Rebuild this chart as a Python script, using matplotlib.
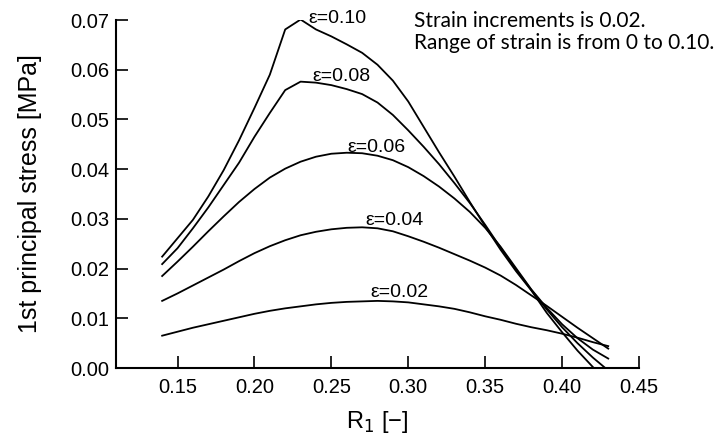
import matplotlib
matplotlib.use("Agg")
import matplotlib.pyplot as plt

r1 = [0.14, 0.15, 0.16, 0.17, 0.18, 0.19, 0.20, 0.21, 0.22, 0.23,
      0.24, 0.25, 0.26, 0.27, 0.28, 0.29, 0.30, 0.31, 0.32, 0.33,
      0.34, 0.35, 0.36, 0.37, 0.38, 0.39, 0.40, 0.41, 0.42, 0.43]

s002 = [0.0065, 0.0073, 0.0081, 0.0088, 0.0095, 0.0102, 0.0109, 0.0115, 0.0120, 0.0124,
        0.0128, 0.0131, 0.0133, 0.0134, 0.0135, 0.0134, 0.0132, 0.0128, 0.0124, 0.0119,
        0.0112, 0.0104, 0.0097, 0.0089, 0.0082, 0.0076, 0.0069, 0.0061, 0.0052, 0.0044]
s004 = [0.0135, 0.0150, 0.0166, 0.0182, 0.0198, 0.0215, 0.0231, 0.0245, 0.0257, 0.0267,
        0.0274, 0.0279, 0.0282, 0.0283, 0.0281, 0.0275, 0.0265, 0.0254, 0.0242, 0.0229,
        0.0216, 0.0202, 0.0186, 0.0167, 0.0146, 0.0125, 0.0103, 0.0081, 0.0060, 0.0039]
s006 = [0.0185, 0.0214, 0.0244, 0.0275, 0.0305, 0.0334, 0.0360, 0.0383, 0.0401, 0.0415,
        0.0425, 0.0431, 0.0433, 0.0432, 0.0427, 0.0418, 0.0404, 0.0386, 0.0365, 0.0341,
        0.0314, 0.0282, 0.0244, 0.0201, 0.0158, 0.0121, 0.0088, 0.0060, 0.0037, 0.0019]
s008 = [0.0209, 0.0241, 0.0281, 0.0323, 0.0368, 0.0413, 0.0465, 0.0513, 0.0559, 0.0576,
        0.0574, 0.0569, 0.0561, 0.0551, 0.0534, 0.0509, 0.0478, 0.0445, 0.0410, 0.0372,
        0.0332, 0.0288, 0.0242, 0.0198, 0.0157, 0.0118, 0.0082, 0.0050, 0.0021, -0.0005]
s010 = [0.0224, 0.0261, 0.0298, 0.0345, 0.0398, 0.0458, 0.0523, 0.0590, 0.0681, 0.0701,
        0.0681, 0.0667, 0.0651, 0.0634, 0.0610, 0.0578, 0.0536, 0.0485, 0.0434, 0.0385,
        0.0334, 0.0285, 0.0238, 0.0195, 0.0156, 0.0111, 0.0072, 0.0035, 0.0002, -0.0028]

series = [s002, s004, s006, s008, s010]
labels = ["ε=0.02", "ε=0.04", "ε=0.06", "ε=0.08", "ε=0.10"]
label_pos = [(0.2753, 0.0142), (0.2721, 0.0288), (0.2602, 0.0435),
             (0.2377, 0.0577), (0.2350, 0.0693)]

xticks = [0.15, 0.20, 0.25, 0.30, 0.35, 0.40, 0.45]
yticks = [0.00, 0.01, 0.02, 0.03, 0.04, 0.05, 0.06, 0.07]

note_lines = ["Strain increments is 0.02.", "Range of strain is from 0 to 0.10."]

plt.rcParams['font.family'] = ['Liberation Sans', 'DejaVu Sans']

fig = plt.figure(figsize=(7.18, 4.34), dpi=100)
ax = fig.add_axes([116/718, 1-368/434, (639-116)/718, (368-20)/434])

for s in series:
    ax.plot(r1, s, color='black', lw=1.3)

for lab, (x, y) in zip(labels, label_pos):
    ax.text(x, y, lab, fontsize=14, ha='left', va='baseline')

ax.set_xlim(0.11, 0.45)
ax.set_ylim(0.0, 0.07)
ax.set_xticks(xticks)
ax.set_xticklabels([f"{t:.2f}" for t in xticks])
ax.set_yticks(yticks)
ax.set_yticklabels([f"{t:.2f}" for t in yticks])
ax.tick_params(direction='in', length=8.6, width=1.2, labelsize=14.5, pad=5)
ax.tick_params(axis='x', pad=7)
for sp in ['top', 'right']:
    ax.spines[sp].set_visible(False)
for sp in ['left', 'bottom']:
    ax.spines[sp].set_linewidth(1.5)

ax.set_ylabel("1st principal stress [MPa]", fontsize=18, labelpad=20)
ax.set_xlabel("R$_1$ [−]", fontsize=17, labelpad=9)

fig.text(414/718, 1-26.7/434, note_lines[0], fontsize=15, family=['Lato', 'DejaVu Sans'],
         ha='left', va='baseline')
fig.text(414/718, 1-49.3/434, note_lines[1], fontsize=15, family=['Lato', 'DejaVu Sans'],
         ha='left', va='baseline')

fig.savefig("out.png", dpi=100)
